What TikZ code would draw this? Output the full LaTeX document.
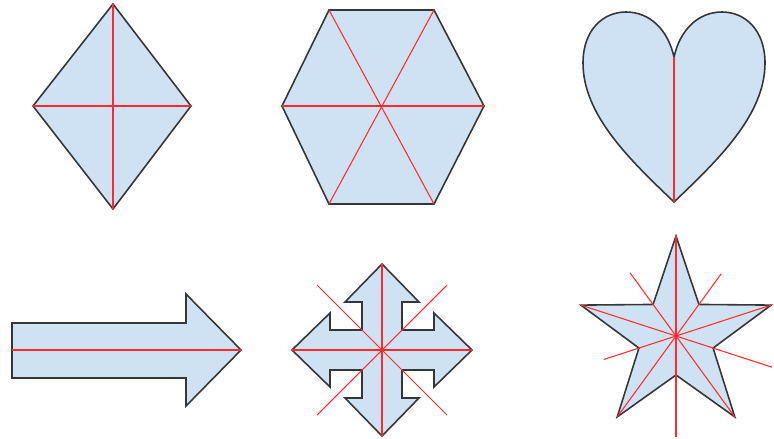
\documentclass[tikz,border=0pt]{standalone}
\usepackage{xcolor}
\usepackage{tikz}
\definecolor{shapefill}{HTML}{CFE2F3}
\definecolor{shapeborder}{HTML}{363636}
\definecolor{symred}{HTML}{FF2A2A}

\tikzset{
  shapebox/.style={fill=shapefill, draw=shapeborder, line width=0.9pt, line join=miter},
  symline/.style={draw=symred, line width=0.6pt}
}

\begin{document}
\begin{tikzpicture}[x=0.02cm, y=-0.02cm]
    \useasboundingbox (0,0) rectangle (774,439);

    % diamond
    \coordinate (dT) at (113,4);
    \coordinate (dR) at (191,106);
    \coordinate (dB) at (113,209);
    \coordinate (dL) at (33,106);
    \draw[shapebox] (dT) -- (dR) -- (dB) -- (dL) -- cycle;
    \draw[symline] (dT) -- (dB);
    \draw[symline] (dL) -- (dR);

    % hexagon
    \coordinate (h1) at (329,10);
    \coordinate (h2) at (434,10);
    \coordinate (h3) at (484,106);
    \coordinate (h4) at (434,204);
    \coordinate (h5) at (329,204);
    \coordinate (h6) at (282,106);
    \draw[shapebox] (h1) -- (h2) -- (h3) -- (h4) -- (h5) -- (h6) -- cycle;
    \draw[symline] (h1) -- (h4);
    \draw[symline] (h2) -- (h5);
    \draw[symline] (h6) -- (h3);

    % heart
    \coordinate (hrC) at (674,57);
    \coordinate (hrB) at (674,202);
    \draw[shapebox] (hrB) .. controls (630,160) and (583,115) .. (583,63)
      .. controls (583,30) and (603,12) .. (626,12)
      .. controls (650,12) and (668,30) .. (hrC)
      .. controls (680,30) and (698,12) .. (722,12)
      .. controls (745,12) and (765,30) .. (765,63)
      .. controls (765,115) and (718,160) .. (hrB) -- cycle;
    \draw[symline] (hrC) -- (hrB);

    % single arrow
    \coordinate (aTail) at (12,350);
    \coordinate (aTip) at (241,350);
    \draw[shapebox] (12,323) -- (186,323) -- (186,294) -- (aTip) -- (186,406)
      -- (186,378) -- (12,378) -- cycle;
    \draw[symline] (aTail) -- (aTip);

    % four-way arrow
    \begin{scope}[shift={(382,350)}]
      \coordinate (mT) at (0,-86);
      \coordinate (mB) at (0,86);
      \coordinate (mL) at (-90,0);
      \coordinate (mR) at (90,0);
      \draw[shapebox] (mT) -- (37,-48) -- (20,-48) -- (20,-20) -- (52,-20) -- (52,-37)
        -- (mR) -- (52,37) -- (52,20) -- (20,20) -- (20,48) -- (37,48)
        -- (mB) -- (-37,48) -- (-20,48) -- (-20,20) -- (-52,20) -- (-52,37)
        -- (mL) -- (-52,-37) -- (-52,-20) -- (-20,-20) -- (-20,-48) -- (-37,-48) -- cycle;
      \coordinate (mD1) at (-135:92);
      \coordinate (mD2) at (45:92);
      \coordinate (mD3) at (135:92);
      \coordinate (mD4) at (-45:92);
      \draw[symline] (mT) -- (mB);
      \draw[symline] (mL) -- (mR);
      \draw[symline] (mD1) -- (mD2);
      \draw[symline] (mD3) -- (mD4);
    \end{scope}

    % star
    \begin{scope}[shift={(676,336)}]
      \foreach \k/\len in {0/101, 1/76, 2/78, 3/77, 4/101} {
        \coordinate (sO\k) at ({-90+72*\k}:100);
        \coordinate (sI\k) at ({-54+72*\k}:39);
        \coordinate (sX\k) at ({90+72*\k}:\len);
      }
      \draw[shapebox] (sO0) -- (sI0) -- (sO1) -- (sI1) -- (sO2) -- (sI2)
        -- (sO3) -- (sI3) -- (sO4) -- (sI4) -- cycle;
      \foreach \k in {0,...,4}
        \draw[symline] (sO\k) -- (sX\k);
    \end{scope}
\end{tikzpicture}
\end{document}
